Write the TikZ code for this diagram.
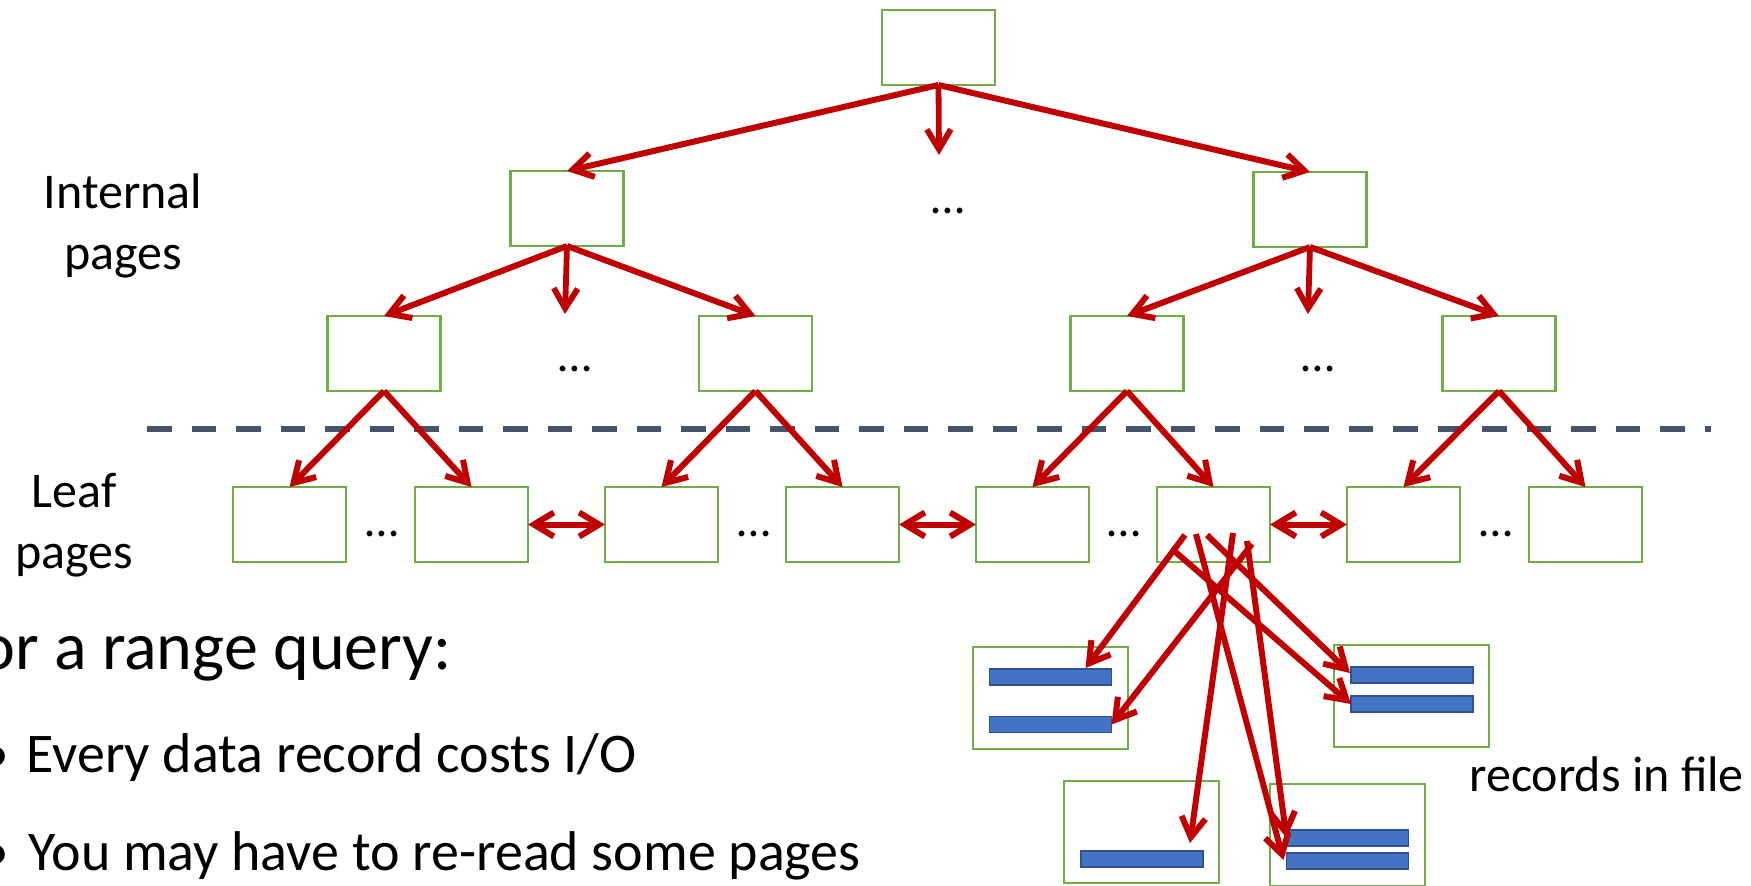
\documentclass[tikz,border=0pt]{standalone}
\usepackage{fontspec}
\setmainfont{Carlito}
\usetikzlibrary{arrows.meta,calc}

\definecolor{pagegreen}{HTML}{70AD47}
\definecolor{linkred}{HTML}{C00000}
\definecolor{recfill}{HTML}{4472C4}
\definecolor{recedge}{HTML}{2F528F}
\definecolor{splitgray}{HTML}{44546A}

\tikzset{
  pagebox/.style={draw=pagegreen, line width=1.35pt, minimum width=56.5pt,
    minimum height=37.5pt, inner sep=0pt, outer sep=0pt},
  filebox/.style={draw=pagegreen, line width=1.35pt, minimum width=77.5pt,
    minimum height=51pt, inner sep=0pt, outer sep=0pt},
  recbar/.style={draw=recedge, fill=recfill, line width=0.9pt, minimum width=61pt,
    minimum height=8pt, inner sep=0pt, outer sep=0pt},
  barb/.tip={Straight Barb[length=10pt,width=12pt]},
  link/.style={draw=linkred, line width=3pt, -barb},
  stub/.style={draw=linkred, line width=2.9pt, -barb},
  sibling/.style={draw=linkred, line width=3pt, barb-barb},
  recptr/.style={draw=linkred, line width=3pt, -barb},
  splitline/.style={draw=splitgray, line width=2.75pt, dash pattern=on 12.25pt off 10pt},
  dots/.style={font=\fontsize{24}{29}\selectfont, anchor=base, inner sep=0pt},
  sidelabel/.style={font=\fontsize{25}{30.5}\selectfont, align=center, inner sep=0pt},
  heading/.style={font=\fontsize{34}{40}\selectfont, anchor=base west, inner sep=0pt},
  bullettext/.style={font=\fontsize{28}{34}\selectfont, anchor=base west, inner sep=0pt},
}

\begin{document}
\begin{tikzpicture}[x=0.5pt, y=-0.5pt]
\useasboundingbox (0,0) rectangle (1751,885);

% root and internal pages
\node[pagebox] (root) at (938.5,47.5) {};
\node[pagebox] (ia) at (567,208.5) {};
\node[pagebox] (ib) at (1310,209.5) {};
\node[pagebox] (ja) at (384,353.5) {};
\node[pagebox] (jb) at (755.5,353.5) {};
\node[pagebox] (jc) at (1127,353.5) {};
\node[pagebox] (jd) at (1499,353.5) {};

% leaf pages
\foreach \i/\x in {1/289.5, 2/471.5, 3/661.5, 4/842.5, 5/1032.5, 6/1213.5, 7/1403.5, 8/1585.5}
  \node[pagebox] (leaf\i) at (\x,524.5) {};

% ellipses between siblings
\node[dots] (e0) at (948,213) {…};
\node[dots] (e1) at (575,371) {…};
\node[dots] (e2) at (1318,371) {…};
\node[dots] (e3) at (382,536) {…};
\node[dots] (e4) at (754,536) {…};
\node[dots] (e5) at (1124,536) {…};
\node[dots] (e6) at (1496,536) {…};

% boundary between internal and leaf levels
\draw[splitline] (147,429) -- (1711,429);

% side labels
\node[sidelabel] (lblint) at (123,226) {Internal\\pages};
\node[sidelabel] (lblleaf) at (74,525) {Leaf\\pages};

% data records in the file
\node[filebox] (f1) at (1050.5,698) {};
\node[filebox] (f2) at (1411.5,696) {};
\node[filebox] (f3) at (1141.5,832) {};
\node[filebox] (f4) at (1347.5,835) {};
\node[recbar] (b11) at (1050.5,677) {};
\node[recbar] (b12) at (1050.5,724.5) {};
\node[recbar] (b21) at (1412,675) {};
\node[recbar] (b22) at (1412,704) {};
\node[recbar] (b31) at (1142,859) {};
\node[recbar] (b41) at (1347.5,838) {};
\node[recbar] (b42) at (1347.5,861) {};

% free ends
\coordinate (rootmid) at (939,155);
\coordinate (iamid) at (565,314);
\coordinate (ibmid) at (1308,314);
\coordinate (s1) at (1185,535);
\coordinate (s2) at (1252,544);
\coordinate (s3) at (1207,535);
\coordinate (s4) at (1172,549);
\coordinate (s5) at (1196,534);
\coordinate (s6) at (1233,533);
\coordinate (s7) at (1247,541);

% tree pointers
\draw[link] (root.south) -- (ia.north);
\draw[link] (root.south) -- (ib.north);
\draw[stub] (root.south) -- (rootmid);
\draw[link] (ia.south) -- (ja.north);
\draw[link] (ia.south) -- (jb.north);
\draw[stub] (ia.south) -- (iamid);
\draw[link] (ib.south) -- (jc.north);
\draw[link] (ib.south) -- (jd.north);
\draw[stub] (ib.south) -- (ibmid);
\draw[link] (ja.south) -- (leaf1.north);
\draw[link] (ja.south) -- (leaf2.north);
\draw[link] (jb.south) -- (leaf3.north);
\draw[link] (jb.south) -- (leaf4.north);
\draw[link] (jc.south) -- (leaf5.north);
\draw[link] (jc.south) -- (leaf6.north);
\draw[link] (jd.south) -- (leaf7.north);
\draw[link] (jd.south) -- (leaf8.north);

% sibling links between leaves
\draw[sibling] (leaf2.east) -- (leaf3.west);
\draw[sibling] (leaf4.east) -- (leaf5.west);
\draw[sibling] (leaf6.east) -- (leaf7.west);

% record pointers from one leaf
\draw[recptr] (s1) -- ($(b11.north east)+(-26,-1)$);
\draw[recptr] (s2) -- (b12.east);
\draw[recptr] (s3) -- ($(b21.west)+(-1,-2)$);
\draw[recptr] (s4) -- (b22.west);
\draw[recptr] (s5) -- ($(b42.west)+(-3,-1)$);
\draw[recptr] (s6) -- ($(b31.north east)+(-13,-8)$);
\draw[recptr] (s7) -- (b41.west);

% text
\node[heading] (q) at (-51.5,669) {For a range query:};
\node[bullettext] (bl1) at (-19,772) {•};
\node[bullettext] (t1) at (26,772) {Every data record costs I/O};
\node[bullettext] (bl2) at (-19,870) {•};
\node[bullettext] (t2) at (28,870) {You may have to re-read some pages};
\node[sidelabel, anchor=base west] (rf) at (1469,791) {records in file};
\end{tikzpicture}
\end{document}
